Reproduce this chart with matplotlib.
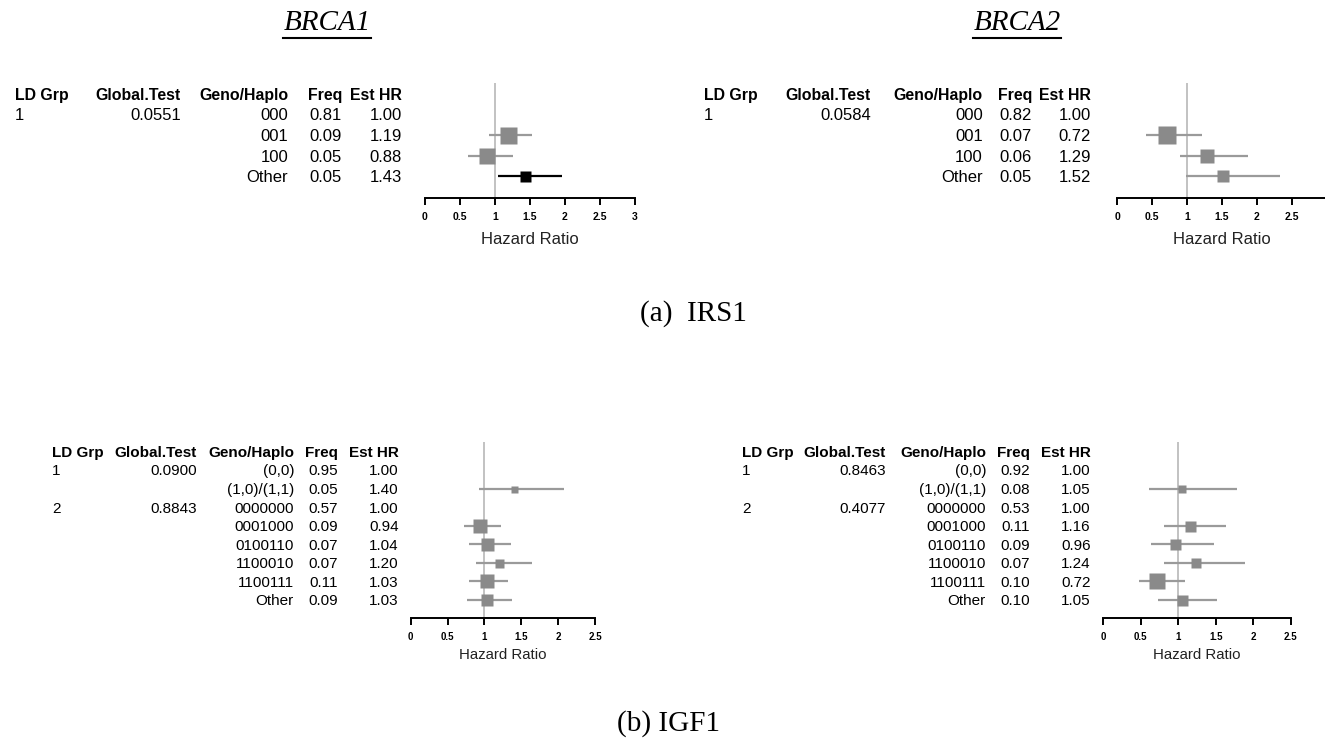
import numpy as np
import matplotlib
matplotlib.use("Agg")
import matplotlib.pyplot as plt
from matplotlib.lines import Line2D

nan = np.nan

# ---------------- data ----------------
# (a) IRS1, BRCA1
irs1_b1_ld = ["1", "", "", ""]
irs1_b1_global = ["0.0551", "", "", ""]
irs1_b1_haplo = ["000", "001", "100", "Other"]
irs1_b1_freq = [0.81, 0.09, 0.05, 0.05]
irs1_b1_hr = [1.00, 1.19, 0.88, 1.43]
irs1_b1_lo = [nan, 0.92, 0.62, 1.04]
irs1_b1_hi = [nan, 1.53, 1.26, 1.95]
irs1_b1_wt = [nan, 17, 16, 11]

# (a) IRS1, BRCA2
irs1_b2_ld = ["1", "", "", ""]
irs1_b2_global = ["0.0584", "", "", ""]
irs1_b2_haplo = ["000", "001", "100", "Other"]
irs1_b2_freq = [0.82, 0.07, 0.06, 0.05]
irs1_b2_hr = [1.00, 0.72, 1.29, 1.52]
irs1_b2_lo = [nan, 0.41, 0.90, 0.98]
irs1_b2_hi = [nan, 1.22, 1.88, 2.34]
irs1_b2_wt = [nan, 18, 14, 12]

# (b) IGF1, BRCA1
igf1_b1_ld = ["1", "", "2", "", "", "", "", ""]
igf1_b1_global = ["0.0900", "", "0.8843", "", "", "", "", ""]
igf1_b1_haplo = ["(0,0)", "(1,0)/(1,1)", "0000000", "0001000", "0100110",
                 "1100010", "1100111", "Other"]
igf1_b1_freq = [0.95, 0.05, 0.57, 0.09, 0.07, 0.07, 0.11, 0.09]
igf1_b1_hr = [1.00, 1.40, 1.00, 0.94, 1.04, 1.20, 1.03, 1.03]
igf1_b1_lo = [nan, 0.93, nan, 0.72, 0.79, 0.88, 0.79, 0.77]
igf1_b1_hi = [nan, 2.08, nan, 1.22, 1.36, 1.64, 1.32, 1.38]
igf1_b1_wt = [nan, 7, nan, 14, 13, 9, 14, 12]

# (b) IGF1, BRCA2
igf1_b2_ld = ["1", "", "2", "", "", "", "", ""]
igf1_b2_global = ["0.8463", "", "0.4077", "", "", "", "", ""]
igf1_b2_haplo = ["(0,0)", "(1,0)/(1,1)", "0000000", "0001000", "0100110",
                 "1100010", "1100111", "Other"]
igf1_b2_freq = [0.92, 0.08, 0.53, 0.11, 0.09, 0.07, 0.10, 0.10]
igf1_b2_hr = [1.00, 1.05, 1.00, 1.16, 0.96, 1.24, 0.72, 1.05]
igf1_b2_lo = [nan, 0.61, nan, 0.81, 0.64, 0.81, 0.48, 0.73]
igf1_b2_hi = [nan, 1.78, nan, 1.64, 1.47, 1.89, 1.09, 1.52]
igf1_b2_wt = [nan, 8, nan, 11, 11, 10, 16, 11]

headers = ["LD Grp", "Global.Test", "Geno/Haplo", "Freq", "Est HR"]
gene_titles = ["BRCA1", "BRCA2"]
captions = ["(a)  IRS1", "(b) IGF1"]
axis_label = "Hazard Ratio"

# ---------------- figure ----------------
W, H = 1325, 738
fig = plt.figure(figsize=(W / 100, H / 100), dpi=100)
SANS = "Liberation Sans"
SERIF = "Liberation Serif"


def fp(x, y):
    return x / W, 1 - y / H


def forest(ld, glob, haplo, freq, hr, lo, hi, wt, cols, row0, dy, head_y,
           x0, ppu, xmax, tickmax, axis_y, top_y, fs, hfs, lab_fs, lab_y,
           tick_fs):
    n = len(haplo)
    c_ld, c_gl, c_ge, c_fr, c_hr = cols

    def txt(x, y, s, ha, bold=False):
        size = hfs if bold else fs
        cap = size * 100 / 72 * 0.716
        X, Y = fp(x, y + cap / 2)
        fig.text(X, Y, s, ha=ha, va="baseline", fontsize=size, family=SANS,
                 fontweight="bold" if bold else "normal", color="black")

    txt(c_ld, head_y, headers[0], "left", True)
    for cx, h in zip([c_gl, c_ge, c_fr, c_hr], headers[1:]):
        txt(cx, head_y, h, "right", True)
    for i in range(n):
        y = row0 + dy * i
        if ld[i]:
            txt(c_ld, y, ld[i], "left")
        if glob[i]:
            txt(c_gl, y, glob[i], "right")
        txt(c_ge, y, haplo[i], "right")
        txt(c_fr, y, f"{freq[i]:.2f}", "right")
        txt(c_hr, y, f"{hr[i]:.2f}", "right")

    # forest axes
    left, _ = fp(x0, 0)
    width = xmax * ppu / W
    bottom = 1 - axis_y / H
    height = (axis_y - top_y) / H
    ax = fig.add_axes([left, bottom, width, height])
    ax.patch.set_alpha(0)
    ax.set_ylim((axis_y - row0) / dy, (top_y - row0) / dy)
    ax.set_xlim(0, xmax)
    ax.axvline(1, color="#bdbdbd", lw=1.3, zorder=1)
    for i in range(n):
        if np.isnan(lo[i]):
            continue
        sig = lo[i] > 1 or hi[i] < 1
        lc = "black" if sig else "#9a9a9a"
        mc = "black" if sig else "#8a8a8a"
        ax.plot([lo[i], hi[i]], [i, i], color=lc, lw=1.6, zorder=2,
                solid_capstyle="butt")
        ax.plot([hr[i]], [i], marker="s", ms=wt[i] * 0.72, color=mc,
                mec="none", zorder=3)
    for s in ["top", "left", "right"]:
        ax.spines[s].set_visible(False)
    ax.spines["bottom"].set_linewidth(1.4)
    ax.spines["bottom"].set_bounds(0, xmax)
    ticks = np.arange(0, tickmax + 0.01, 0.5)
    ax.set_xticks(ticks)
    ax.set_xticklabels([f"{t:g}" for t in ticks], fontsize=tick_fs,
                       fontweight="bold", family=SANS)
    ax.tick_params(axis="x", length=5, width=1.4, pad=5, direction="out")
    ax.set_yticks([])
    cx = x0 + min(xmax, 3) / 2 * ppu
    X, Y = fp(cx, lab_y)
    fig.text(X, Y, axis_label, ha="center", va="center", fontsize=lab_fs,
             family=SANS, color="#222222")
    return ax


# top row: IRS1
forest(irs1_b1_ld, irs1_b1_global, irs1_b1_haplo, irs1_b1_freq, irs1_b1_hr,
       irs1_b1_lo, irs1_b1_hi, irs1_b1_wt,
       cols=(15, 181, 288, 342, 402), row0=114, dy=20.8, head_y=94,
       x0=425, ppu=70, xmax=3, tickmax=3, axis_y=198, top_y=83, fs=12,
       hfs=11.4, lab_fs=12, lab_y=240, tick_fs=7.5)
forest(irs1_b2_ld, irs1_b2_global, irs1_b2_haplo, irs1_b2_freq, irs1_b2_hr,
       irs1_b2_lo, irs1_b2_hi, irs1_b2_wt,
       cols=(704, 871, 983, 1032, 1091), row0=114, dy=20.8, head_y=94,
       x0=1117.3, ppu=69.7, xmax=3, tickmax=2.5, axis_y=198, top_y=83, fs=12,
       hfs=11.4, lab_fs=12, lab_y=240, tick_fs=7.5)

# bottom row: IGF1
forest(igf1_b1_ld, igf1_b1_global, igf1_b1_haplo, igf1_b1_freq, igf1_b1_hr,
       igf1_b1_lo, igf1_b1_hi, igf1_b1_wt,
       cols=(52, 197, 294, 338, 399), row0=470, dy=18.57, head_y=452,
       x0=410.7, ppu=73.7, xmax=2.5, tickmax=2.5, axis_y=618, top_y=442,
       fs=11, hfs=11, lab_fs=10.8, lab_y=655, tick_fs=7)
forest(igf1_b2_ld, igf1_b2_global, igf1_b2_haplo, igf1_b2_freq, igf1_b2_hr,
       igf1_b2_lo, igf1_b2_hi, igf1_b2_wt,
       cols=(742, 886, 986, 1030, 1091), row0=470, dy=18.57, head_y=452,
       x0=1103.3, ppu=75, xmax=2.5, tickmax=2.5, axis_y=618, top_y=442,
       fs=11, hfs=11, lab_fs=10.8, lab_y=655, tick_fs=7)

# gene titles (italic, underlined)
title_objs = []
for cx, t in zip([327, 1017], gene_titles):
    X, Y = fp(cx, 23)
    title_objs.append(fig.text(X, Y, t, ha="center", va="center", fontsize=21,
                               family=SERIF, style="italic", color="black"))

# captions
for (x, y), c in zip([(640, 314), (617, 724)], captions):
    X, Y = fp(x, y)
    fig.text(X, Y, c, ha="left", va="center", fontsize=21, family=SERIF,
             color="black")

fig.canvas.draw()
r = fig.canvas.get_renderer()
for t in title_objs:
    bb = t.get_window_extent(r)
    yline = 1 - 38 / H
    fig.add_artist(Line2D([bb.x0 / W, bb.x1 / W], [yline, yline],
                          transform=fig.transFigure, color="black", lw=1.5))

fig.savefig("out.png", dpi=100)
